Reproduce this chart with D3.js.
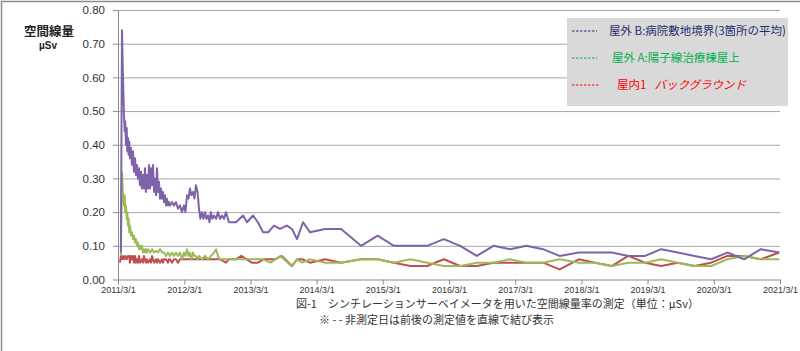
<!DOCTYPE html>
<html>
<head>
<meta charset="utf-8">
<script src="https://cdn.jsdelivr.net/npm/d3@7"></script>
<style>
  body { margin: 0; background: #fff; }
  svg { display: block; }
  .tick text { font-family: 'Liberation Sans', Arial, sans-serif; fill: #333; }
  .jp { font-family: 'Noto Sans CJK JP', sans-serif; }
</style>
</head>
<body>
<svg width="800" height="351"></svg>
<script>
// 屋外 B: 病院敷地境界 (3箇所の平均)
const outdoorB = [
  ['2011-03-17', 0.08], ['2011-03-23', 0.74], ['2011-03-28', 0.61], ['2011-04-03', 0.49],
  ['2011-04-07', 0.44], ['2011-04-10', 0.47], ['2011-04-14', 0.40], ['2011-04-18', 0.45],
  ['2011-04-21', 0.38], ['2011-04-25', 0.42], ['2011-04-29', 0.37], ['2011-05-02', 0.41],
  ['2011-05-06', 0.36], ['2011-05-12', 0.39], ['2011-05-17', 0.34], ['2011-05-23', 0.38],
  ['2011-05-28', 0.32], ['2011-06-03', 0.36], ['2011-06-08', 0.31], ['2011-06-14', 0.34],
  ['2011-06-19', 0.30], ['2011-06-25', 0.33], ['2011-06-30', 0.28], ['2011-07-06', 0.32],
  ['2011-07-11', 0.27], ['2011-07-17', 0.31], ['2011-07-22', 0.27], ['2011-07-28', 0.33],
  ['2011-08-02', 0.26], ['2011-08-08', 0.31], ['2011-08-14', 0.27], ['2011-08-19', 0.34],
  ['2011-08-25', 0.27], ['2011-08-30', 0.33], ['2011-09-05', 0.28], ['2011-09-10', 0.34],
  ['2011-09-16', 0.26], ['2011-09-21', 0.30], ['2011-09-27', 0.25], ['2011-10-02', 0.33],
  ['2011-10-08', 0.26], ['2011-10-13', 0.29], ['2011-10-19', 0.24], ['2011-10-24', 0.27],
  ['2011-10-30', 0.24], ['2011-11-04', 0.26], ['2011-11-10', 0.23], ['2011-11-15', 0.25],
  ['2011-11-21', 0.22], ['2011-11-26', 0.24], ['2011-12-02', 0.22], ['2011-12-07', 0.23],
  ['2011-12-13', 0.22], ['2011-12-24', 0.23], ['2012-01-04', 0.22], ['2012-01-15', 0.23],
  ['2012-01-26', 0.21], ['2012-02-06', 0.22], ['2012-02-17', 0.20], ['2012-02-28', 0.22],
  ['2012-03-07', 0.20], ['2012-03-16', 0.25], ['2012-03-24', 0.24], ['2012-04-01', 0.27],
  ['2012-04-09', 0.25], ['2012-04-18', 0.26], ['2012-04-26', 0.24], ['2012-05-04', 0.28],
  ['2012-05-13', 0.26], ['2012-05-21', 0.21], ['2012-05-29', 0.18], ['2012-06-06', 0.20],
  ['2012-06-15', 0.18], ['2012-06-23', 0.20], ['2012-07-01', 0.18], ['2012-07-10', 0.19],
  ['2012-07-18', 0.17], ['2012-07-26', 0.20], ['2012-08-03', 0.18], ['2012-08-12', 0.19],
  ['2012-08-23', 0.18], ['2012-09-03', 0.20], ['2012-09-14', 0.18], ['2012-09-25', 0.19],
  ['2012-10-06', 0.18], ['2012-10-17', 0.20], ['2012-11-02', 0.17], ['2012-12-11', 0.17],
  ['2013-01-19', 0.19], ['2013-02-10', 0.17], ['2013-03-15', 0.19], ['2013-04-11', 0.17],
  ['2013-05-10', 0.14], ['2013-06-06', 0.14], ['2013-07-09', 0.16], ['2013-08-11', 0.15],
  ['2013-09-18', 0.16], ['2013-10-16', 0.15], ['2013-11-13', 0.12], ['2013-12-16', 0.17],
  ['2014-01-24', 0.14], ['2014-04-17', 0.15], ['2014-07-14', 0.15], ['2014-11-01', 0.10],
  ['2015-02-01', 0.13], ['2015-05-01', 0.10], ['2015-08-01', 0.10], ['2015-11-01', 0.10],
  ['2016-02-01', 0.12], ['2016-05-01', 0.10], ['2016-08-01', 0.07], ['2016-11-01', 0.10],
  ['2017-02-01', 0.09], ['2017-05-01', 0.10], ['2017-08-01', 0.09], ['2017-11-01', 0.07],
  ['2018-02-15', 0.08], ['2018-05-15', 0.08], ['2018-08-15', 0.08], ['2018-11-15', 0.07],
  ['2019-02-15', 0.07], ['2019-05-15', 0.09], ['2019-08-15', 0.08], ['2019-11-15', 0.07],
  ['2020-02-15', 0.06], ['2020-05-15', 0.08], ['2020-08-15', 0.06], ['2020-11-15', 0.09],
  ['2021-02-25', 0.08]
];

// 屋外 A: 陽子線治療棟屋上
const outdoorA = [
  ['2011-03-17', 0.07], ['2011-03-23', 0.32], ['2011-03-28', 0.26], ['2011-04-03', 0.22],
  ['2011-04-07', 0.25], ['2011-04-10', 0.20], ['2011-04-14', 0.22], ['2011-04-18', 0.18],
  ['2011-04-21', 0.20], ['2011-04-25', 0.16], ['2011-04-29', 0.18], ['2011-05-02', 0.14],
  ['2011-05-06', 0.16], ['2011-05-12', 0.13], ['2011-05-17', 0.14], ['2011-05-23', 0.12],
  ['2011-05-28', 0.13], ['2011-06-03', 0.11], ['2011-06-08', 0.12], ['2011-06-14', 0.10],
  ['2011-06-19', 0.11], ['2011-06-25', 0.09], ['2011-06-30', 0.10], ['2011-07-06', 0.09],
  ['2011-07-11', 0.10], ['2011-07-17', 0.08], ['2011-07-22', 0.09], ['2011-07-28', 0.08],
  ['2011-08-02', 0.09], ['2011-08-08', 0.08], ['2011-08-14', 0.09], ['2011-08-25', 0.08],
  ['2011-09-05', 0.09], ['2011-09-16', 0.08], ['2011-09-27', 0.085], ['2011-10-08', 0.08],
  ['2011-10-19', 0.09], ['2011-10-30', 0.08], ['2011-11-10', 0.08], ['2011-11-21', 0.07],
  ['2011-12-02', 0.08], ['2011-12-13', 0.07], ['2011-12-24', 0.08], ['2012-01-04', 0.07],
  ['2012-01-15', 0.08], ['2012-01-26', 0.07], ['2012-02-06', 0.08], ['2012-02-17', 0.06],
  ['2012-02-28', 0.08], ['2012-03-07', 0.07], ['2012-03-16', 0.09], ['2012-03-24', 0.07],
  ['2012-04-01', 0.08], ['2012-04-09', 0.06], ['2012-04-18', 0.08], ['2012-04-26', 0.07],
  ['2012-05-04', 0.07], ['2012-05-13', 0.06], ['2012-05-21', 0.07], ['2012-06-06', 0.06],
  ['2012-06-23', 0.07], ['2012-07-10', 0.06], ['2012-07-26', 0.07], ['2012-08-12', 0.08],
  ['2012-08-23', 0.09], ['2012-09-03', 0.07], ['2012-09-14', 0.06], ['2012-10-06', 0.06],
  ['2012-11-02', 0.06], ['2012-12-11', 0.06], ['2013-01-19', 0.06], ['2013-03-15', 0.06],
  ['2013-05-10', 0.06], ['2013-06-19', 0.05], ['2013-08-14', 0.07], ['2013-10-13', 0.04],
  ['2013-11-13', 0.06], ['2013-12-12', 0.05], ['2014-01-24', 0.06], ['2014-04-17', 0.05],
  ['2014-07-14', 0.05], ['2014-11-01', 0.06], ['2015-02-01', 0.06], ['2015-05-01', 0.05],
  ['2015-08-01', 0.06], ['2015-11-01', 0.05], ['2016-02-01', 0.04], ['2016-05-01', 0.04],
  ['2016-08-01', 0.05], ['2016-11-01', 0.05], ['2017-02-01', 0.06], ['2017-05-01', 0.05],
  ['2017-08-01', 0.05], ['2017-11-01', 0.06], ['2018-02-15', 0.05], ['2018-05-15', 0.05],
  ['2018-08-15', 0.04], ['2018-11-15', 0.05], ['2019-02-15', 0.05], ['2019-05-15', 0.06],
  ['2019-08-15', 0.05], ['2019-11-15', 0.04], ['2020-02-15', 0.04], ['2020-05-15', 0.06],
  ['2020-08-15', 0.07], ['2020-11-15', 0.06], ['2021-02-25', 0.06]
];

// 屋内1: バックグラウンド
const indoor1 = [
  ['2011-03-12', 0.05], ['2011-03-17', 0.07], ['2011-03-23', 0.06], ['2011-03-28', 0.07],
  ['2011-04-03', 0.06], ['2011-04-10', 0.07], ['2011-04-18', 0.06], ['2011-04-25', 0.07],
  ['2011-05-02', 0.07], ['2011-05-06', 0.05], ['2011-05-12', 0.07], ['2011-05-17', 0.06],
  ['2011-05-23', 0.07], ['2011-05-28', 0.05], ['2011-06-03', 0.07], ['2011-06-08', 0.05],
  ['2011-06-14', 0.06], ['2011-06-19', 0.05], ['2011-06-25', 0.07], ['2011-06-30', 0.05],
  ['2011-07-11', 0.06], ['2011-07-17', 0.05], ['2011-07-22', 0.07], ['2011-08-02', 0.05],
  ['2011-08-08', 0.06], ['2011-08-14', 0.05], ['2011-08-25', 0.06], ['2011-08-30', 0.05],
  ['2011-09-05', 0.07], ['2011-09-16', 0.05], ['2011-09-27', 0.06], ['2011-10-02', 0.05],
  ['2011-10-08', 0.06], ['2011-10-19', 0.05], ['2011-10-30', 0.06], ['2011-11-04', 0.05],
  ['2011-11-10', 0.06], ['2011-11-21', 0.06], ['2011-12-02', 0.05], ['2011-12-07', 0.06],
  ['2011-12-13', 0.06], ['2011-12-24', 0.05], ['2012-01-04', 0.06], ['2012-01-15', 0.06],
  ['2012-01-26', 0.05], ['2012-02-06', 0.06], ['2012-02-17', 0.06], ['2012-02-28', 0.06],
  ['2012-03-08', 0.06], ['2012-04-01', 0.06], ['2012-05-04', 0.06], ['2012-06-06', 0.06],
  ['2012-07-10', 0.06], ['2012-08-12', 0.06], ['2012-09-14', 0.06], ['2012-10-17', 0.05],
  ['2012-11-02', 0.06], ['2012-12-11', 0.06], ['2013-01-09', 0.07], ['2013-03-08', 0.05],
  ['2013-04-11', 0.05], ['2013-05-11', 0.06], ['2013-07-15', 0.06], ['2013-08-21', 0.07],
  ['2013-10-16', 0.04], ['2013-11-13', 0.06], ['2013-12-12', 0.06], ['2014-01-24', 0.05],
  ['2014-04-17', 0.06], ['2014-07-14', 0.05], ['2014-11-01', 0.06], ['2015-02-01', 0.06],
  ['2015-05-01', 0.05], ['2015-08-01', 0.04], ['2015-11-01', 0.04], ['2016-02-01', 0.06],
  ['2016-05-01', 0.04], ['2016-08-01', 0.04], ['2016-11-01', 0.05], ['2017-02-01', 0.05],
  ['2017-05-01', 0.05], ['2017-08-01', 0.05], ['2017-11-01', 0.03], ['2018-02-15', 0.06],
  ['2018-05-15', 0.05], ['2018-08-15', 0.04], ['2018-11-15', 0.07], ['2019-02-15', 0.05],
  ['2019-05-15', 0.04], ['2019-08-15', 0.05], ['2019-11-15', 0.04], ['2020-02-15', 0.05],
  ['2020-05-15', 0.07], ['2020-08-15', 0.07], ['2020-11-15', 0.06], ['2021-02-25', 0.08]
];

const xTickLabels = ['2011/3/1', '2012/3/1', '2013/3/1', '2014/3/1', '2015/3/1', '2016/3/1',
  '2017/3/1', '2018/3/1', '2019/3/1', '2020/3/1', '2021/3/1'];
const yTickLabels = ['0.00', '0.10', '0.20', '0.30', '0.40', '0.50', '0.60', '0.70', '0.80'];

const legendLabels = ['屋外  B:病院敷地境界(3箇所の平均)', '屋外  A:陽子線治療棟屋上', '屋内1'];

const svg = d3.select('svg');
const width = +svg.attr('width');
const height = +svg.attr('height');

const parseDate = d3.timeParse('%Y-%m-%d');
const parseTick = d3.timeParse('%Y/%m/%d');

const render = () => {
    const margin = {top: 10, right: 20, bottom: 72, left: 118};
    const innerWidth = 780 - margin.left;
    const innerHeight = 279.5 - margin.top;

    const toPoints = arr => arr.map(d => ({date: parseDate(d[0]), value: d[1]}));
    const series = [
        {points: toPoints(indoor1), color: '#c0504d'},
        {points: toPoints(outdoorA), color: '#9bbb59'},
        {points: toPoints(outdoorB), color: '#7f63a8'}
    ];

    const xTicks = xTickLabels.map(parseTick);
    const yTicks = yTickLabels.map(d => +d);

    const xScale = d3.scaleTime()
        .domain([xTicks[0], xTicks[xTicks.length - 1]])
        .range([0, innerWidth]);

    const yScale = d3.scaleLinear()
        .domain([0, 0.8])
        .range([innerHeight, 0]);

    // outer frame (right / bottom edges fall outside the picture)
    svg.append('rect')
        .attr('x', 1.5).attr('y', 1.5)
        .attr('width', 830).attr('height', 380)
        .attr('fill', 'none')
        .attr('stroke', '#8c8c8c')
        .attr('stroke-width', 1.5);

    const g = svg.append('g')
        .attr('transform', `translate(${margin.left},${margin.top})`);

    // gridlines
    const gridG = g.append('g')
        .call(d3.axisLeft(yScale).tickValues(yTicks.slice(1)).tickSize(-innerWidth).tickFormat(''));
    gridG.select('.domain').remove();
    gridG.selectAll('.tick line').attr('stroke', '#a6a6a6');

    // y axis
    const yAxisG = g.append('g')
        .call(d3.axisLeft(yScale)
            .tickValues(yTicks)
            .tickFormat((d, i) => yTickLabels[i])
            .tickSize(5)
            .tickSizeOuter(0)
            .tickPadding(8));
    yAxisG.selectAll('.domain, .tick line').attr('stroke', '#8c8c8c');
    yAxisG.selectAll('.tick text').attr('font-size', 11.5);

    // x axis
    const xAxisG = g.append('g')
        .attr('transform', `translate(0,${innerHeight})`)
        .call(d3.axisBottom(xScale)
            .tickValues(xTicks)
            .tickFormat((d, i) => xTickLabels[i])
            .tickSize(5)
            .tickSizeOuter(0)
            .tickPadding(2));
    xAxisG.selectAll('.domain, .tick line').attr('stroke', '#8c8c8c');
    xAxisG.selectAll('.tick text').attr('font-size', 9);

    // lines
    const line = d3.line()
        .x(d => xScale(d.date))
        .y(d => yScale(d.value));

    g.selectAll('path.series').data(series)
        .enter().append('path')
            .attr('class', 'series')
            .attr('d', d => line(d.points))
            .attr('fill', 'none')
            .attr('stroke', d => d.color)
            .attr('stroke-width', 2)
            .attr('stroke-linejoin', 'round');

    // y title
    svg.append('text')
        .attr('class', 'jp')
        .attr('x', 49).attr('y', 36)
        .attr('text-anchor', 'middle')
        .attr('font-size', 12.5)
        .attr('font-weight', 'bold')
        .attr('fill', '#222')
        .text('空間線量');
    svg.append('text')
        .attr('x', 48).attr('y', 49)
        .attr('text-anchor', 'middle')
        .attr('font-family', "'Liberation Sans', Arial, sans-serif")
        .attr('font-size', 10)
        .attr('font-weight', 'bold')
        .attr('fill', '#222')
        .text('µSv');

    // legend
    const legendColors = ['#1f2d6e', '#00b050', '#ff0000'];
    const legend = svg.append('g').attr('transform', 'translate(567,18)');
    legend.append('rect')
        .attr('width', 221).attr('height', 88)
        .attr('fill', '#d9d9d9');
    const rows = legend.selectAll('g.row').data(legendLabels)
        .enter().append('g')
            .attr('class', 'row')
            .attr('transform', (d, i) => `translate(0,${[13, 40, 67][i]})`);
    rows.append('line')
        .attr('x1', 5).attr('x2', (d, i) => i === 2 ? 33 : 30)
        .attr('stroke', (d, i) => legendColors[i])
        .attr('stroke-width', 1)
        .attr('stroke-dasharray', '2.5,1.5');
    rows.append('text')
        .attr('class', 'jp')
        .attr('x', (d, i) => [42, 45, 50][i])
        .attr('y', 4)
        .attr('font-size', 11.5)
        .attr('fill', (d, i) => legendColors[i])
        .text(d => d)
        .filter((d, i) => i === 2)
        .append('tspan')
            .attr('dx', 8)
            .attr('font-style', 'italic')
            .text('バックグラウンド');

    // caption
    svg.append('text')
        .attr('class', 'jp')
        .attr('x', 296).attr('y', 308)
        .attr('font-size', 11)
        .attr('fill', '#333')
        .text('図-1　シンチレーションサーベイメータを用いた空間線量率の測定（単位：µSv）');
    svg.append('text')
        .attr('class', 'jp')
        .attr('x', 319).attr('y', 324)
        .attr('font-size', 11)
        .attr('fill', '#333')
        .text('※ - - 非測定日は前後の測定値を直線で結び表示');
};

render();
</script>
</body>
</html>
